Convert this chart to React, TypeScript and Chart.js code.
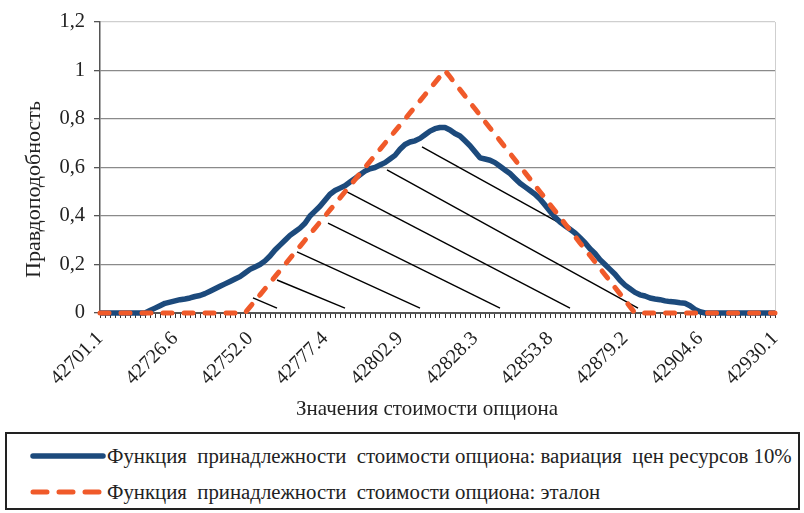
import React, { useEffect, useRef } from "react";
import { Chart, registerables } from "chart.js";

Chart.register(...registerables);

// x-axis tick labels (every 15th category of 136)
const xTickLabels = ["42701.1", "42726.6", "42752.0", "42777.4", "42802.9", "42828.3", "42853.8", "42879.2", "42904.6", "42930.1"];
const yTickLabels = ["0", "0,2", "0,4", "0,6", "0,8", "1", "1,2"];
const categoryCount = 136;
const labelEvery = 15;

const blueLabel = "Функция  принадлежности  стоимости опциона: вариация  цен ресурсов 10%";
const redLabel = "Функция  принадлежности  стоимости опциона: эталон";
const xTitle = "Значения стоимости опциона";
const yTitle = "Правдоподобность";

// series: variation of resource prices 10%
const blueValues = [
  0, 0, 0, 0, 0, 0, 0, 0, 0, 0,
  0.01, 0.02, 0.03, 0.04, 0.045, 0.05, 0.055, 0.058, 0.062, 0.068,
  0.072, 0.08, 0.09, 0.1, 0.11, 0.12, 0.13, 0.14, 0.15, 0.165,
  0.18, 0.19, 0.2, 0.215, 0.235, 0.26, 0.28, 0.3, 0.32, 0.335,
  0.35, 0.37, 0.4, 0.42, 0.44, 0.465, 0.49, 0.505, 0.515, 0.525,
  0.54, 0.555, 0.57, 0.585, 0.595, 0.6, 0.61, 0.62, 0.635, 0.65,
  0.675, 0.695, 0.705, 0.71, 0.72, 0.735, 0.75, 0.76, 0.765, 0.765,
  0.755, 0.74, 0.73, 0.71, 0.69, 0.665, 0.64, 0.635, 0.63, 0.62,
  0.605, 0.59, 0.575, 0.555, 0.535, 0.52, 0.505, 0.49, 0.47, 0.445,
  0.42, 0.395, 0.375, 0.36, 0.345, 0.33, 0.31, 0.29, 0.265, 0.245,
  0.22, 0.2, 0.18, 0.16, 0.135, 0.115, 0.1, 0.085, 0.075, 0.07,
  0.062, 0.058, 0.055, 0.05, 0.047, 0.045, 0.042, 0.04, 0.03, 0.015,
  0.005, 0, 0, 0, 0, 0, 0, 0, 0, 0,
  0, 0, 0, 0, 0, 0,
];

// series: reference (etalon) triangle
const redValues = [
  0, 0, 0, 0, 0, 0, 0, 0, 0, 0,
  0, 0, 0, 0, 0, 0, 0, 0, 0, 0,
  0, 0, 0, 0, 0, 0, 0, 0, 0, 0,
  0.025, 0.05, 0.075, 0.1, 0.125, 0.15, 0.175, 0.2, 0.225, 0.25,
  0.275, 0.3, 0.325, 0.35, 0.375, 0.4, 0.425, 0.45, 0.475, 0.5,
  0.525, 0.55, 0.575, 0.6, 0.625, 0.65, 0.675, 0.7, 0.725, 0.75,
  0.775, 0.8, 0.825, 0.85, 0.875, 0.9, 0.925, 0.95, 0.975, 1,
  0.974, 0.947, 0.921, 0.895, 0.868, 0.842, 0.816, 0.789, 0.763, 0.737,
  0.711, 0.684, 0.658, 0.632, 0.605, 0.579, 0.553, 0.526, 0.5, 0.474,
  0.447, 0.421, 0.395, 0.368, 0.342, 0.316, 0.289, 0.263, 0.237, 0.211,
  0.184, 0.158, 0.132, 0.105, 0.079, 0.053, 0.026, 0, 0, 0,
  0, 0, 0, 0, 0, 0, 0, 0, 0, 0,
  0, 0, 0, 0, 0, 0, 0, 0, 0, 0,
  0, 0, 0, 0, 0, 0,
];

// hatching segments (category index, value)
const hatchStartX = [30.6, 35.4, 39.4, 45.6, 49.4, 57.4, 64.4];
const hatchStartY = [0.062, 0.136, 0.252, 0.371, 0.499, 0.59, 0.685];
const hatchEndX = [35.4, 49, 64, 80, 94, 107.6, 91.6];
const hatchEndY = [0.02, 0.02, 0.02, 0.02, 0.02, 0.02, 0.375];

const BLUE = "#1c4a7c";
const RED = "#f05a2a";
const SERIF = "'Liberation Serif', Tinos, 'DejaVu Serif', serif";

export default function App() {
  const canvasRef = useRef<HTMLCanvasElement | null>(null);

  useEffect(() => {
    document.body.style.margin = "0";
    const canvas = canvasRef.current;
    if (!canvas) return;

    const hatchSets = hatchStartX.map((x, k) => ({
      label: "hatch" + k,
      data: [
        { x, y: hatchStartY[k] },
        { x: hatchEndX[k], y: hatchEndY[k] },
      ],
      borderColor: "#000",
      borderWidth: 1.4,
      pointRadius: 0,
      order: 3,
      clip: false as any,
    }));

    const chart = new Chart(canvas, {
      type: "line",
      data: {
        datasets: [
          {
            label: redLabel,
            data: redValues.map((y, i) => ({ x: i, y })),
            borderColor: RED,
            borderWidth: 5,
            borderDash: [9, 12],
            borderCapStyle: "round",
            pointRadius: 0,
            order: 1,
            clip: false as any,
          },
          {
            label: blueLabel,
            data: blueValues.map((y, i) => ({ x: i, y })),
            borderColor: BLUE,
            borderWidth: 5.5,
            borderJoinStyle: "round",
            pointRadius: 0,
            order: 2,
            clip: false as any,
          },
          ...hatchSets,
        ],
      },
      options: {
        animation: false,
        responsive: false,
        maintainAspectRatio: false,
        layout: { padding: { top: 22, right: 29, left: 0, bottom: 0 } },
        plugins: { legend: { display: false }, tooltip: { enabled: false } },
        scales: {
          x: {
            type: "linear",
            min: 0,
            max: categoryCount - 1,
            afterFit: (s: any) => {
              s.height = 112;
            },
            ticks: {
              stepSize: 1,
              maxTicksLimit: 1000,
              autoSkip: false,
              minRotation: 45,
              maxRotation: 45,
              padding: 9,
              color: "#222",
              font: { family: SERIF, size: 20 },
              callback: (v: any) => {
                const n = Math.round(Number(v));
                return n % labelEvery === 0 ? xTickLabels[n / labelEvery] : "";
              },
            },
            grid: {
              drawOnChartArea: true,
              color: (c: any) => (c.tick && Math.round(c.tick.value) === categoryCount - 1 ? "#cfcfcf" : "rgba(0,0,0,0)"),
              tickColor: "#333",
              tickLength: 5,
              tickWidth: 1,
            },
            border: { color: "#555", width: 2 },
            title: {
              display: true,
              text: xTitle + "\u00a0".repeat(4),
              color: "#222",
              font: { family: SERIF, size: 21 },
              padding: { top: 0, bottom: 3 },
            },
          },
          y: {
            min: 0,
            max: 1.2,
            afterFit: (s: any) => {
              s.width = 100;
            },
            ticks: {
              stepSize: 0.2,
              padding: 9,
              color: "#222",
              font: { family: SERIF, size: 20.5 },
              callback: (_v: any, i: number) => yTickLabels[i],
            },
            grid: {
              color: (c: any) => (c.tick && c.tick.value > 1.19 ? "#cfcfcf" : "#8a8a8a"),
              lineWidth: 1.3,
              tickColor: "#555",
              tickLength: 6,
            },
            border: { color: "#555", width: 1.5 },
            title: {
              display: true,
              text: yTitle + "\u00a0".repeat(8),
              color: "#222",
              font: { family: SERIF, size: 22 },
              padding: { top: 21, bottom: 0 },
            },
          },
        },
      },
    });
    return () => chart.destroy();
  }, []);

  const legendRow = (dashed: boolean, text: string, top: number) => (
    <div
      style={{
        position: "absolute",
        left: 20,
        top,
        height: 30,
        display: "flex",
        alignItems: "center",
      }}
    >
      <svg width={80} height={12} style={{ display: "block" }}>
        <line
          x1={6}
          y1={6}
          x2={76}
          y2={6}
          stroke={dashed ? RED : BLUE}
          strokeWidth={dashed ? 5 : 5.5}
          strokeLinecap="round"
          strokeDasharray={dashed ? "14 12" : undefined}
        />
      </svg>
      <span
        style={{
          fontFamily: SERIF,
          fontSize: 20.8,
          color: "#222",
          whiteSpace: "pre",
          marginLeft: 0,
        }}
      >
        {text}
      </span>
    </div>
  );

  return (
    <div style={{ position: "absolute", left: 0, top: 0, width: 804, height: 513, background: "#fff" }}>
      <canvas ref={canvasRef} width={804} height={425} style={{ position: "absolute", left: 0, top: 0 }} />
      <div
        style={{
          position: "absolute",
          left: 5,
          top: 432,
          width: 791,
          height: 74,
          border: "2px solid #222",
        }}
      >
        {legendRow(false, blueLabel, 7)}
        {legendRow(true, redLabel, 43)}
      </div>
    </div>
  );
}
